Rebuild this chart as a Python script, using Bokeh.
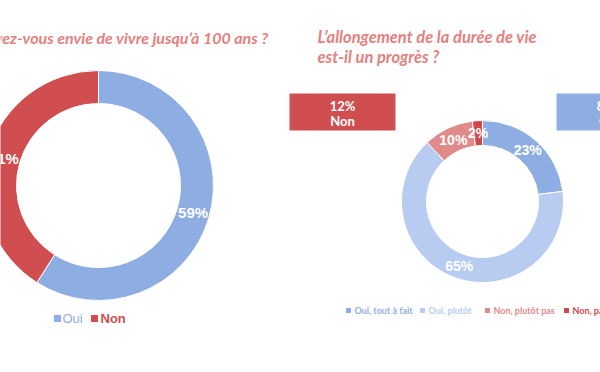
import numpy as np
from bokeh.plotting import figure
from bokeh.models import Range1d, ColumnDataSource
from bokeh.core.properties import value
from bokeh.embed import file_html
from bokeh.resources import INLINE

# ---------------- data ----------------
q1_title = "Avez-vous envie de vivre jusqu’à 100 ans ?"
q1_labels = ["Oui", "Non"]
q1_values = [59, 41]
q1_colors = ["#8EAEE3", "#D04E50"]

q2_title = ["L’allongement de la durée de vie", "est-il un progrès ?"]
q2_labels = ["Oui, tout à fait", "Oui, plutôt", "Non, plutôt pas", "Non, pas du tout"]
q2_values = [23, 65, 10, 2]
q2_colors = ["#8EAEE3", "#B7CCF0", "#E08A8B", "#D04848"]

sum_labels = ["Non", "Oui"]
sum_values = [12, 88]
sum_colors = ["#D04E50", "#8EAEE3"]

TITLE_COLOR = "#E3817F"

W, H = 600, 372
def Y(py):
    return H - py

p = figure(width=600, height=372, x_range=Range1d(0, 600), y_range=Range1d(0, 372),
           output_backend="svg", toolbar_location=None, min_border=0)
p.axis.visible = False
p.grid.visible = False
p.outline_line_color = None
p.background_fill_color = "white"
p.border_fill_color = "white"


def donut(cx, cy, r_in, r_out, values, colors, font_size):
    vals = np.array(values, dtype=float)
    frac = vals / vals.sum()
    cum = np.concatenate([[0], np.cumsum(frac)])
    start = np.pi / 2 - cum[:-1] * 2 * np.pi
    end = np.pi / 2 - cum[1:] * 2 * np.pi
    src = ColumnDataSource(dict(start=start, end=end, color=colors))
    p.annular_wedge(x=cx, y=Y(cy), inner_radius=r_in, outer_radius=r_out,
                    start_angle="start", end_angle="end", direction="clock",
                    fill_color="color", line_color="white", line_width=1, source=src)
    mid = np.pi / 2 - (cum[:-1] + frac / 2) * 2 * np.pi
    rm = (r_in + r_out) / 2
    lx = cx + rm * np.cos(mid)
    ly = Y(cy) + rm * np.sin(mid)
    txt = [f"{int(v)}%" for v in values]
    p.text(x=lx, y=ly, text=txt, text_color="white", text_font=value("Liberation Sans"),
           text_font_style="bold", text_font_size=font_size,
           text_align="center", text_baseline="middle")


# ---------------- left chart ----------------
p.text(x=[268], y=[Y(37)], text=[q1_title], text_color=TITLE_COLOR,
       text_font=value("Lato"), text_font_style="bold italic", text_font_size="16px",
       text_align="right", text_baseline="middle")
donut(98, 185, 82, 115, q1_values, q1_colors, "15px")

# left legend
leg1_x = [57, 94]
p.scatter(x=leg1_x, y=[Y(318)] * 2, marker="square", size=7, fill_color=q1_colors, line_color=None)
p.text(x=[62], y=[Y(318)], text=[q1_labels[0]], text_color=q1_colors[0],
       text_font=value("Liberation Sans"), text_font_size="13px",
       text_align="left", text_baseline="middle")
p.text(x=[100], y=[Y(318)], text=[q1_labels[1]], text_color=q1_colors[1],
       text_font=value("Liberation Sans"), text_font_style="bold", text_font_size="13px",
       text_align="left", text_baseline="middle")

# ---------------- right chart ----------------
p.text(x=[317, 317], y=[Y(36), Y(56)], text=q2_title, text_color=TITLE_COLOR,
       text_font=value("Lato"), text_font_style="bold italic", text_font_size="16.5px",
       text_align="left", text_baseline="middle")

# summary boxes
box_left = [289, 556]
box_w = 106
p.quad(left=box_left, right=[b + box_w for b in box_left], top=[Y(93)] * 2, bottom=[Y(130)] * 2,
       fill_color=sum_colors, line_color=None)
bx = [b + box_w / 2 for b in box_left]
p.text(x=bx, y=[Y(105)] * 2, text=[f"{v}%" for v in sum_values], text_color="white",
       text_font=value("Lato"), text_font_style="bold", text_font_size="13px",
       text_align="center", text_baseline="middle")
p.text(x=bx, y=[Y(120)] * 2, text=sum_labels, text_color="white",
       text_font=value("Lato"), text_font_style="bold", text_font_size="13px",
       text_align="center", text_baseline="middle")

donut(482, 201, 56, 81, q2_values, q2_colors, "14px")

# right legend
leg2_sq = [348, 422, 487, 566]
p.scatter(x=leg2_sq, y=[Y(310)] * 4, marker="square", size=5, fill_color=q2_colors, line_color=None)
p.text(x=[s + 6 for s in leg2_sq], y=[Y(310)] * 4, text=q2_labels, text_color=q2_colors,
       text_font=value("Lato"), text_font_style="bold", text_font_size="9px",
       text_align="left", text_baseline="middle")

open("out.html", "w").write(file_html(p, INLINE))
